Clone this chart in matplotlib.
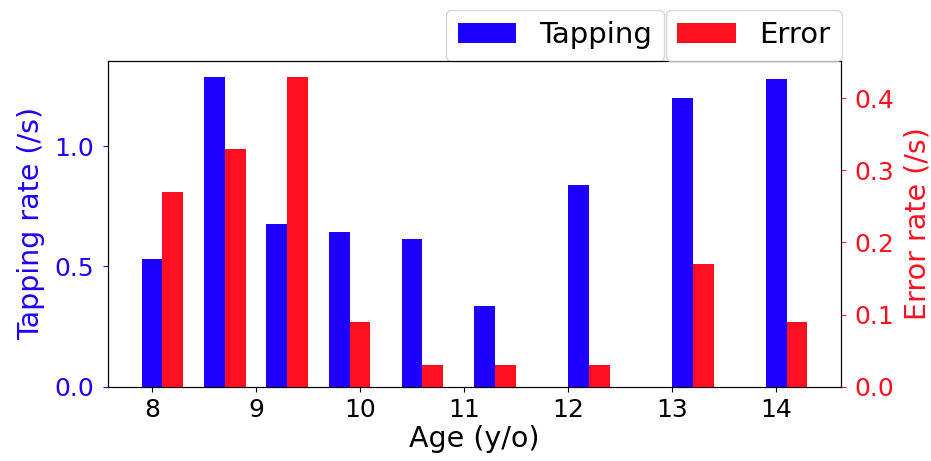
import matplotlib
matplotlib.use("Agg")
import matplotlib.pyplot as plt
import numpy as np

ages = [8.0, 8.6, 9.2, 9.8, 10.5, 11.2, 12.1, 13.1, 14.0]
tapping = [0.53, 1.29, 0.675, 0.645, 0.615, 0.335, 0.84, 1.20, 1.28]
error = [0.27, 0.33, 0.43, 0.09, 0.03, 0.03, 0.03, 0.17, 0.09]
xticks = [8, 9, 10, 11, 12, 13, 14]

blue = "#1E00FF"
red = "#FF1020"
width = 0.2

fig = plt.figure(figsize=(9.31, 4.61), dpi=100)
ax1 = fig.add_axes([108.3/931, (461-386.7)/461, (840.7-108.3)/931, (386.7-61)/461])
ax2 = ax1.twinx()

x = np.array(ages)
ax1.bar(x, tapping, width, color=blue, label="Tapping")
ax2.bar(x + width, error, width, color=red, label="Error")

ax1.set_xticks(xticks)
ax1.tick_params(axis="x", labelsize=18, pad=4.5)
ax1.tick_params(axis="y", labelsize=18, colors=blue, pad=6.5)
ax2.tick_params(axis="y", labelsize=18, colors=red, pad=6)
ax1.set_yticks([0.0, 0.5, 1.0])
ax2.set_yticks([0.0, 0.1, 0.2, 0.3, 0.4])

ax1.set_xlabel("Age (y/o)", fontsize=20.5, labelpad=2)
ax1.set_ylabel("Tapping rate (/s)", fontsize=20.5, color=blue, labelpad=7)
ax2.set_ylabel("Error rate (/s)", fontsize=20.5, color=red, labelpad=7)

ax1.legend(loc="lower left", bbox_to_anchor=(0.461, 1.0), borderaxespad=0,
           fontsize=21)
ax2.legend(loc="lower left", bbox_to_anchor=(0.761, 1.0), borderaxespad=0,
           fontsize=21)

fig.savefig("out.png", dpi=100)
